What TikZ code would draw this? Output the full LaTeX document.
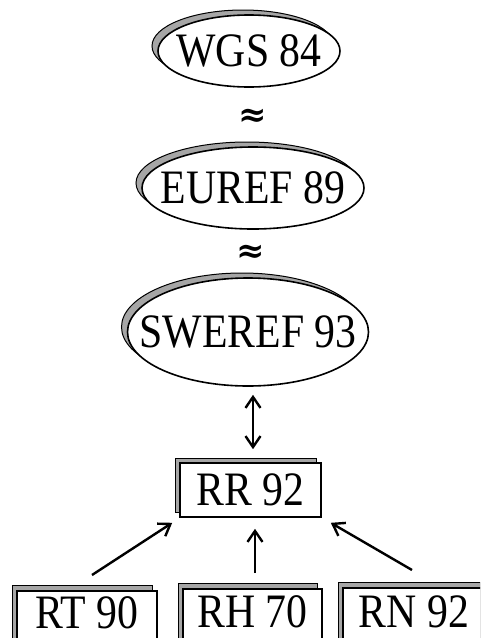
\documentclass[tikz,border=0pt]{standalone}
\usepackage{fontspec}
\setmainfont{Liberation Serif}[FakeStretch=0.87]
\newfontfamily\symfont{DejaVu Serif}
\usetikzlibrary{shapes.geometric,shadows,arrows.meta}
\begin{document}
\begin{tikzpicture}[x=1pt,y=-1pt,
  lbl/.style={font=\fontsize{48}{48}\selectfont, inner sep=0pt},
  ell/.style={ellipse, draw=black, line width=1.6pt, fill=white, inner sep=0pt,
     copy shadow={shadow xshift=-6pt, shadow yshift=5pt, fill=black!35, draw=black, line width=1pt}},
  box/.style={rectangle, draw=black, line width=1.6pt, fill=white, inner sep=0pt,
     font=\fontsize{48}{48}\selectfont,
     copy shadow={shadow xshift=-5pt, shadow yshift=5pt, fill=black!35, draw=black, line width=1pt}},
  btm/.style={box, minimum height=70pt, text depth=31pt, anchor=north},
  approxsym/.style={font=\fontsize{34}{34}\symfont\bfseries, inner sep=0pt},
  arr/.style={line width=2.4pt, -{Straight Barb[length=11pt,width=15pt,line width=2.4pt]}},
  dbl/.style={line width=2.4pt, {Straight Barb[length=11pt,width=15pt,line width=2.4pt]}-{Straight Barb[length=11pt,width=15pt,line width=2.4pt]}}
]
\clip (0,0) rectangle (480,638);
\fill[white] (0,0) rectangle (480,638);

\node[ell, minimum width=182pt, minimum height=72pt, label={[lbl]center:WGS 84}] (wgs) at (249,51) {};
\node[approxsym] (ap1) at (253,118) {≈};
\node[ell, minimum width=222pt, minimum height=82pt, label={[lbl]center:EUREF 89}] (euref) at (253,188) {};
\node[approxsym] (ap2) at (251,254) {≈};
\node[ell, minimum width=241pt, minimum height=108pt, label={[lbl]center:SWEREF 93}] (sweref) at (248,332) {};

\node[box, minimum width=141pt, minimum height=54pt] (rr) at (250.5,490) {RR 92};

\node[btm, minimum width=140pt, text height=37pt] (rt) at (87,590) {RT 90};
\node[btm, minimum width=139pt, text height=39pt] (rh) at (252.5,588) {RH 70};
\node[btm, minimum width=142pt, text height=40pt] (rn) at (414,587) {RN 92};

\draw[dbl] ([xshift=5pt,yshift=-8pt]sweref.south) -- ([xshift=2.5pt,yshift=13pt]rr.north);
\draw[arr] ([xshift=5pt,yshift=15pt]rt.north) -- ([xshift=-7pt,yshift=-5pt]rr.south west);
\draw[arr] ([xshift=2.5pt,yshift=15pt]rh.north) -- ([xshift=4.5pt,yshift=-11pt]rr.south);
\draw[arr] ([xshift=-2pt,yshift=17pt]rn.north) -- ([xshift=9pt,yshift=-5pt]rr.south east);
\end{tikzpicture}
\end{document}
